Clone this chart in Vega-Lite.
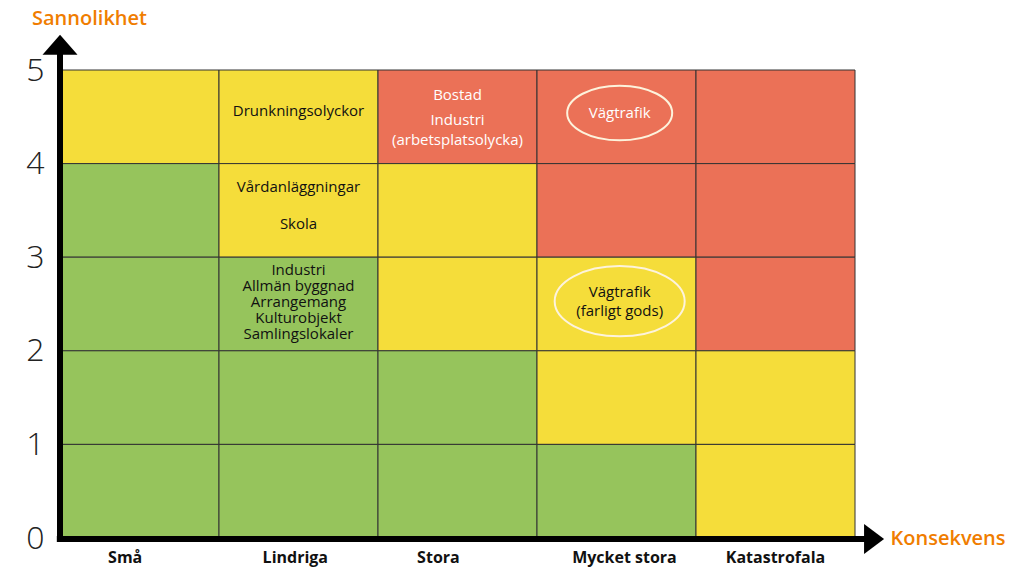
{
  "$schema": "https://vega.github.io/schema/vega-lite/v6.json",
  "width": 795,
  "height": 468,
  "autosize": "none",
  "padding": {"left": 60, "top": 70, "right": 175, "bottom": 32},
  "background": "white",
  "config": {"view": {"stroke": null}, "font": "Open Sans"},
  "datasets": {
    "cells": [
      {"x1": 0, "x2": 1, "y1": 4, "y2": 5, "level": "medel"},
      {"x1": 1, "x2": 2, "y1": 4, "y2": 5, "level": "medel"},
      {"x1": 2, "x2": 3, "y1": 4, "y2": 5, "level": "hög"},
      {"x1": 3, "x2": 4, "y1": 4, "y2": 5, "level": "hög"},
      {"x1": 4, "x2": 5, "y1": 4, "y2": 5, "level": "hög"},
      {"x1": 0, "x2": 1, "y1": 3, "y2": 4, "level": "låg"},
      {"x1": 1, "x2": 2, "y1": 3, "y2": 4, "level": "medel"},
      {"x1": 2, "x2": 3, "y1": 3, "y2": 4, "level": "medel"},
      {"x1": 3, "x2": 4, "y1": 3, "y2": 4, "level": "hög"},
      {"x1": 4, "x2": 5, "y1": 3, "y2": 4, "level": "hög"},
      {"x1": 0, "x2": 1, "y1": 2, "y2": 3, "level": "låg"},
      {"x1": 1, "x2": 2, "y1": 2, "y2": 3, "level": "låg"},
      {"x1": 2, "x2": 3, "y1": 2, "y2": 3, "level": "medel"},
      {"x1": 3, "x2": 4, "y1": 2, "y2": 3, "level": "medel"},
      {"x1": 4, "x2": 5, "y1": 2, "y2": 3, "level": "hög"},
      {"x1": 0, "x2": 1, "y1": 1, "y2": 2, "level": "låg"},
      {"x1": 1, "x2": 2, "y1": 1, "y2": 2, "level": "låg"},
      {"x1": 2, "x2": 3, "y1": 1, "y2": 2, "level": "låg"},
      {"x1": 3, "x2": 4, "y1": 1, "y2": 2, "level": "medel"},
      {"x1": 4, "x2": 5, "y1": 1, "y2": 2, "level": "medel"},
      {"x1": 0, "x2": 1, "y1": 0, "y2": 1, "level": "låg"},
      {"x1": 1, "x2": 2, "y1": 0, "y2": 1, "level": "låg"},
      {"x1": 2, "x2": 3, "y1": 0, "y2": 1, "level": "låg"},
      {"x1": 3, "x2": 4, "y1": 0, "y2": 1, "level": "låg"},
      {"x1": 4, "x2": 5, "y1": 0, "y2": 1, "level": "medel"}
    ],
    "texts": [
      {"x": 1.5, "y": 4.56, "label": "Drunkningsolyckor", "tone": "mörk"},
      {"x": 2.5, "y": 4.73, "label": "Bostad", "tone": "ljus"},
      {"x": 2.5, "y": 4.47, "label": "Industri", "tone": "ljus"},
      {"x": 2.5, "y": 4.25, "label": "(arbetsplatsolycka)", "tone": "ljus"},
      {"x": 3.52, "y": 4.54, "label": "Vägtrafik", "tone": "ljus"},
      {"x": 1.5, "y": 3.75, "label": "Vårdanläggningar", "tone": "mörk"},
      {"x": 1.5, "y": 3.36, "label": "Skola", "tone": "mörk"},
      {"x": 3.52, "y": 2.63, "label": "Vägtrafik", "tone": "mörk"},
      {"x": 3.52, "y": 2.43, "label": "(farligt gods)", "tone": "mörk"}
    ],
    "blocks": [
      {"x": 1.5, "y": 2.86, "label": ["Industri", "Allmän byggnad", "Arrangemang", "Kulturobjekt", "Samlingslokaler"]}
    ],
    "ellipses": [
      {"x": 3.52, "y": 4.54, "name": "Vägtrafik"},
      {"x": 3.52, "y": 2.53, "name": "Vägtrafik (farligt gods)"}
    ],
    "categories": [
      {"x": 0.41, "y": -0.21, "label": "Små"},
      {"x": 1.48, "y": -0.21, "label": "Lindriga"},
      {"x": 2.38, "y": -0.21, "label": "Stora"},
      {"x": 3.55, "y": -0.21, "label": "Mycket stora"},
      {"x": 4.5, "y": -0.21, "label": "Katastrofala"}
    ]
  },
  "layer": [
    {
      "data": {"name": "cells"},
      "mark": {"type": "rect", "stroke": "#333333", "strokeWidth": 1},
      "encoding": {
        "x": {
          "field": "x1", "type": "quantitative",
          "scale": {"domain": [0, 5], "nice": false, "zero": false},
          "axis": {"title": "Konsekvens", "labels": false, "ticks": false, "domain": false, "grid": false,
                   "titleColor": "#f07d00", "titleFontSize": 20, "titleFontWeight": 600, "titleFont": "Open Sans",
                   "titleX": 830, "titleY": 0, "titleAlign": "left", "titleBaseline": "middle", "titleAnchor": null}
        },
        "x2": {"field": "x2"},
        "y": {
          "field": "y1", "type": "quantitative",
          "scale": {"domain": [0, 5], "nice": false, "zero": false},
          "axis": {"title": "Sannolikhet", "values": [0, 1, 2, 3, 4, 5], "format": "d", "tickSize": 0, "domain": false, "grid": false,
                   "labelFontSize": 32, "labelFontWeight": 300, "labelColor": "#222222", "labelPadding": 16, "labelFont": "Open Sans",
                   "titleColor": "#f07d00", "titleFontSize": 20, "titleFontWeight": 600, "titleFont": "Open Sans",
                   "titleAngle": 0, "titleX": 29, "titleY": -52, "titleAlign": "center", "titleBaseline": "middle", "titleAnchor": null}
        },
        "y2": {"field": "y2"},
        "color": {
          "field": "level", "type": "nominal", "legend": null,
          "scale": {"domain": ["låg", "medel", "hög"], "range": ["#96c45c", "#f5dd3a", "#eb7157"]}
        }
      }
    },
    {
      "data": {"values": [{}]},
      "mark": {"type": "rule", "color": "black", "strokeWidth": 6},
      "encoding": {"x": {"datum": 0, "type": "quantitative"}, "y": {"datum": -0.02, "type": "quantitative"}, "y2": {"datum": 5.17}}
    },
    {
      "data": {"values": [{}]},
      "mark": {"type": "rule", "color": "black", "strokeWidth": 6},
      "encoding": {"y": {"datum": -0.01, "type": "quantitative"}, "x": {"datum": -0.02, "type": "quantitative"}, "x2": {"datum": 5.07}}
    },
    {
      "data": {"values": [{}]},
      "mark": {"type": "point", "filled": true, "color": "black", "opacity": 1, "size": 1600,
               "shape": "M-0.875,0.5L0,-0.5L0.875,0.5Z"},
      "encoding": {"x": {"datum": 0, "type": "quantitative"}, "y": {"datum": 5.27, "type": "quantitative"}}
    },
    {
      "data": {"values": [{}]},
      "mark": {"type": "point", "filled": true, "color": "black", "opacity": 1, "size": 1600,
               "shape": "M-0.5,-0.75L0.5,0L-0.5,0.75Z"},
      "encoding": {"x": {"datum": 5.12, "type": "quantitative"}, "y": {"datum": -0.01, "type": "quantitative"}}
    },
    {
      "data": {"name": "texts"},
      "mark": {"type": "text", "fontSize": 15, "font": "Open Sans", "baseline": "middle", "align": "center"},
      "encoding": {
        "x": {"field": "x", "type": "quantitative"},
        "y": {"field": "y", "type": "quantitative"},
        "text": {"field": "label"},
        "color": {"field": "tone", "type": "nominal", "legend": null,
                  "scale": {"domain": ["mörk", "ljus"], "range": ["#111111", "#ffffff"]}}
      }
    },
    {
      "data": {"name": "blocks"},
      "mark": {"type": "text", "fontSize": 15, "font": "Open Sans", "baseline": "middle", "align": "center", "lineHeight": 16, "color": "#111111"},
      "encoding": {
        "x": {"field": "x", "type": "quantitative"},
        "y": {"field": "y", "type": "quantitative"},
        "text": {"field": "label"}
      }
    },
    {
      "data": {"name": "ellipses"},
      "transform": [{"filter": "datum.name === 'Vägtrafik'"}],
      "mark": {"type": "point", "filled": false, "stroke": "#fdf3dc", "strokeWidth": 2, "opacity": 1, "size": 11025,
               "shape": "M-1,0C-1,-0.287,-0.552,-0.52,0,-0.52C0.552,-0.52,1,-0.287,1,0C1,0.287,0.552,0.52,0,0.52C-0.552,0.52,-1,0.287,-1,0Z"},
      "encoding": {"x": {"field": "x", "type": "quantitative"}, "y": {"field": "y", "type": "quantitative"}}
    },
    {
      "data": {"name": "ellipses"},
      "transform": [{"filter": "datum.name !== 'Vägtrafik'"}],
      "mark": {"type": "point", "filled": false, "stroke": "#fdf3dc", "strokeWidth": 2, "opacity": 1, "size": 16900,
               "shape": "M-1,0C-1,-0.298,-0.552,-0.54,0,-0.54C0.552,-0.54,1,-0.298,1,0C1,0.298,0.552,0.54,0,0.54C-0.552,0.54,-1,0.298,-1,0Z"},
      "encoding": {"x": {"field": "x", "type": "quantitative"}, "y": {"field": "y", "type": "quantitative"}}
    },
    {
      "data": {"name": "categories"},
      "mark": {"type": "text", "fontSize": 16, "fontWeight": "bold", "font": "Open Sans", "color": "#111111", "baseline": "middle", "align": "center"},
      "encoding": {
        "x": {"field": "x", "type": "quantitative"},
        "y": {"field": "y", "type": "quantitative"},
        "text": {"field": "label"}
      }
    }
  ],
  "resolve": {"scale": {"color": "independent"}}
}
